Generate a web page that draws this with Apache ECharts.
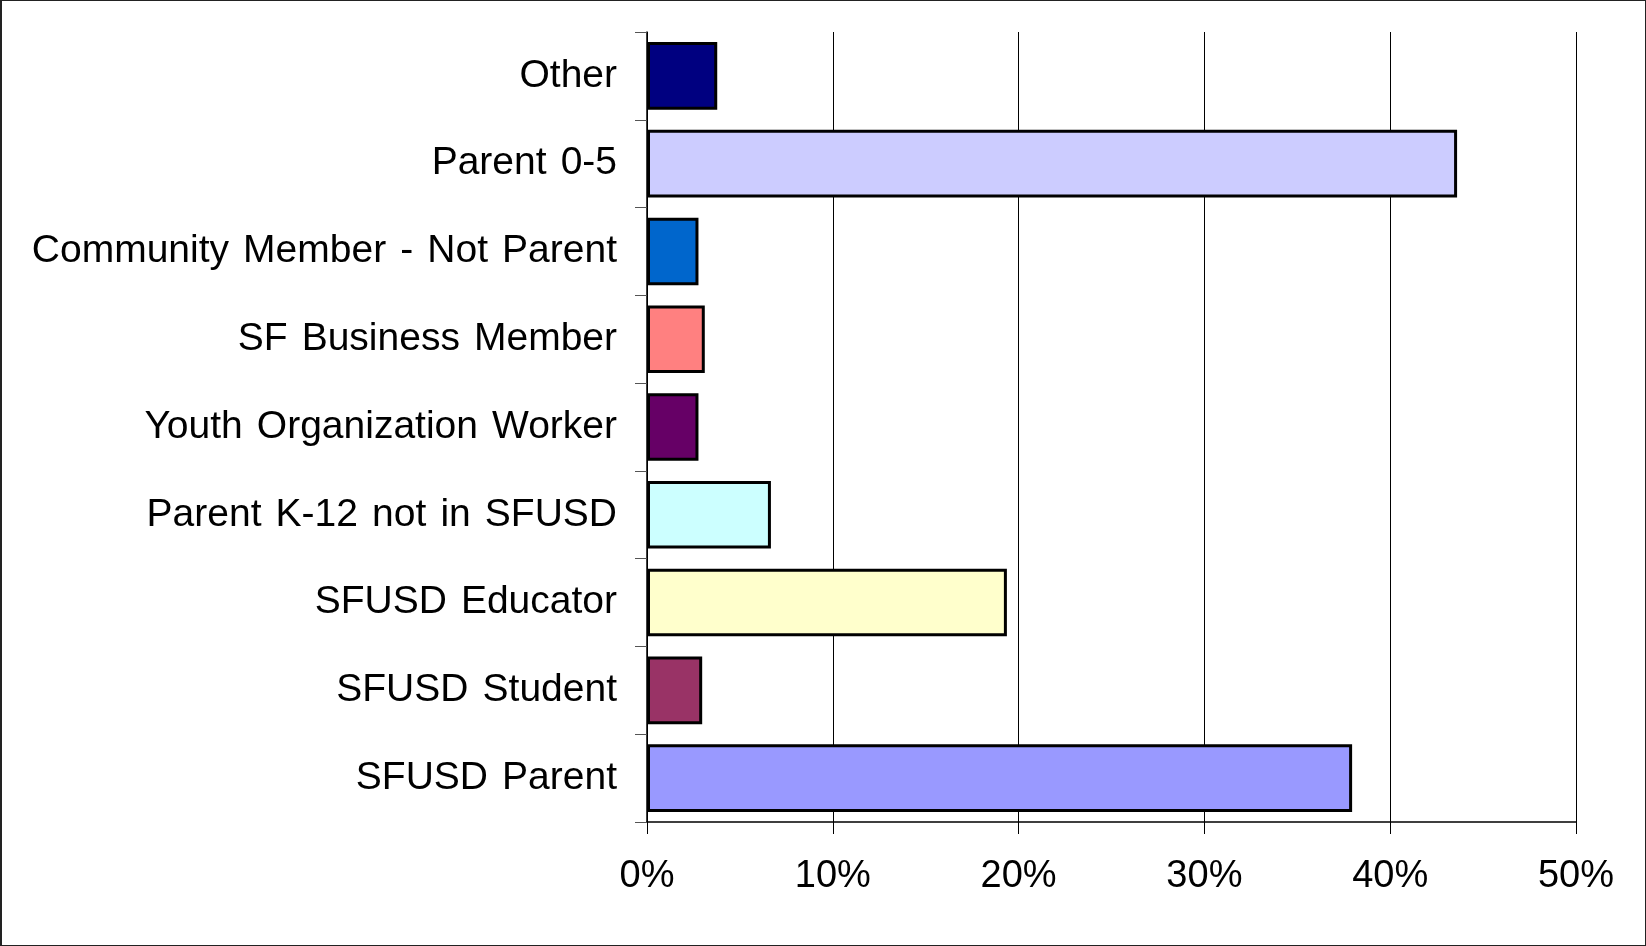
<!DOCTYPE html>
<html>
<head>
<meta charset="utf-8">
<script src="https://cdn.jsdelivr.net/npm/echarts@6/dist/echarts.min.js"></script>
<style>
  html, body { margin: 0; padding: 0; background: #fff; }
  #main { width: 1646px; height: 946px; box-sizing: border-box; border: 1px solid #222; border-left-width: 2px; }
</style>
</head>
<body>
<div id="main"></div>
<script>
// categories listed bottom to top, as the axis draws them
const categories = [
  'SFUSD Parent',
  'SFUSD Student',
  'SFUSD Educator',
  'Parent K-12 not in SFUSD',
  'Youth Organization Worker',
  'SF Business Member',
  'Community Member - Not Parent',
  'Parent 0-5',
  'Other'
];
const shares = [37.95, 2.97, 19.37, 6.67, 2.77, 3.11, 2.77, 43.6, 3.78];
const barColors = ['#9999FF', '#993366', '#FFFFCC', '#CCFFFF', '#660066', '#FF8080', '#0066CC', '#CCCCFF', '#000080'];
const xTicks = [0, 10, 20, 30, 40, 50];

let myChart = echarts.init(document.getElementById('main'));
let option = {
  animation: false,
  grid: { left: 645, right: 69, top: 31, bottom: 123 },
  xAxis: {
    type: 'value',
    min: xTicks[0],
    max: xTicks[xTicks.length - 1],
    interval: 10,
    axisLine: { show: true, lineStyle: { color: '#000', width: 1.5 } },
    axisTick: { show: true, inside: false, length: 12, lineStyle: { color: '#000' } },
    splitLine: { show: true, lineStyle: { color: '#000', width: 1 } },
    axisLabel: {
      formatter: '{value}%',
      color: '#000',
      fontFamily: 'Liberation Sans',
      fontSize: 38,
      margin: 36
    }
  },
  yAxis: {
    type: 'category',
    data: categories,
    axisLine: { show: true, lineStyle: { color: '#000', width: 1.5 } },
    axisTick: { show: true, length: 12, lineStyle: { color: '#555' } },
    axisLabel: {
      color: '#000',
      fontFamily: 'Liberation Sans',
      fontSize: 39,
      margin: 30,
      // slightly wider word gaps, like the original
      formatter: function (v) { return v.replace(/ /g, ' \u200A'); }
    }
  },
  series: [
    {
      type: 'bar',
      barCategoryGap: '23%',
      data: shares.map((v, i) => ({
        value: v,
        itemStyle: { color: barColors[i] }
      })),
      itemStyle: { borderColor: '#000', borderWidth: 3 }
    }
  ]
};
myChart.setOption(option);
</script>
</body>
</html>
